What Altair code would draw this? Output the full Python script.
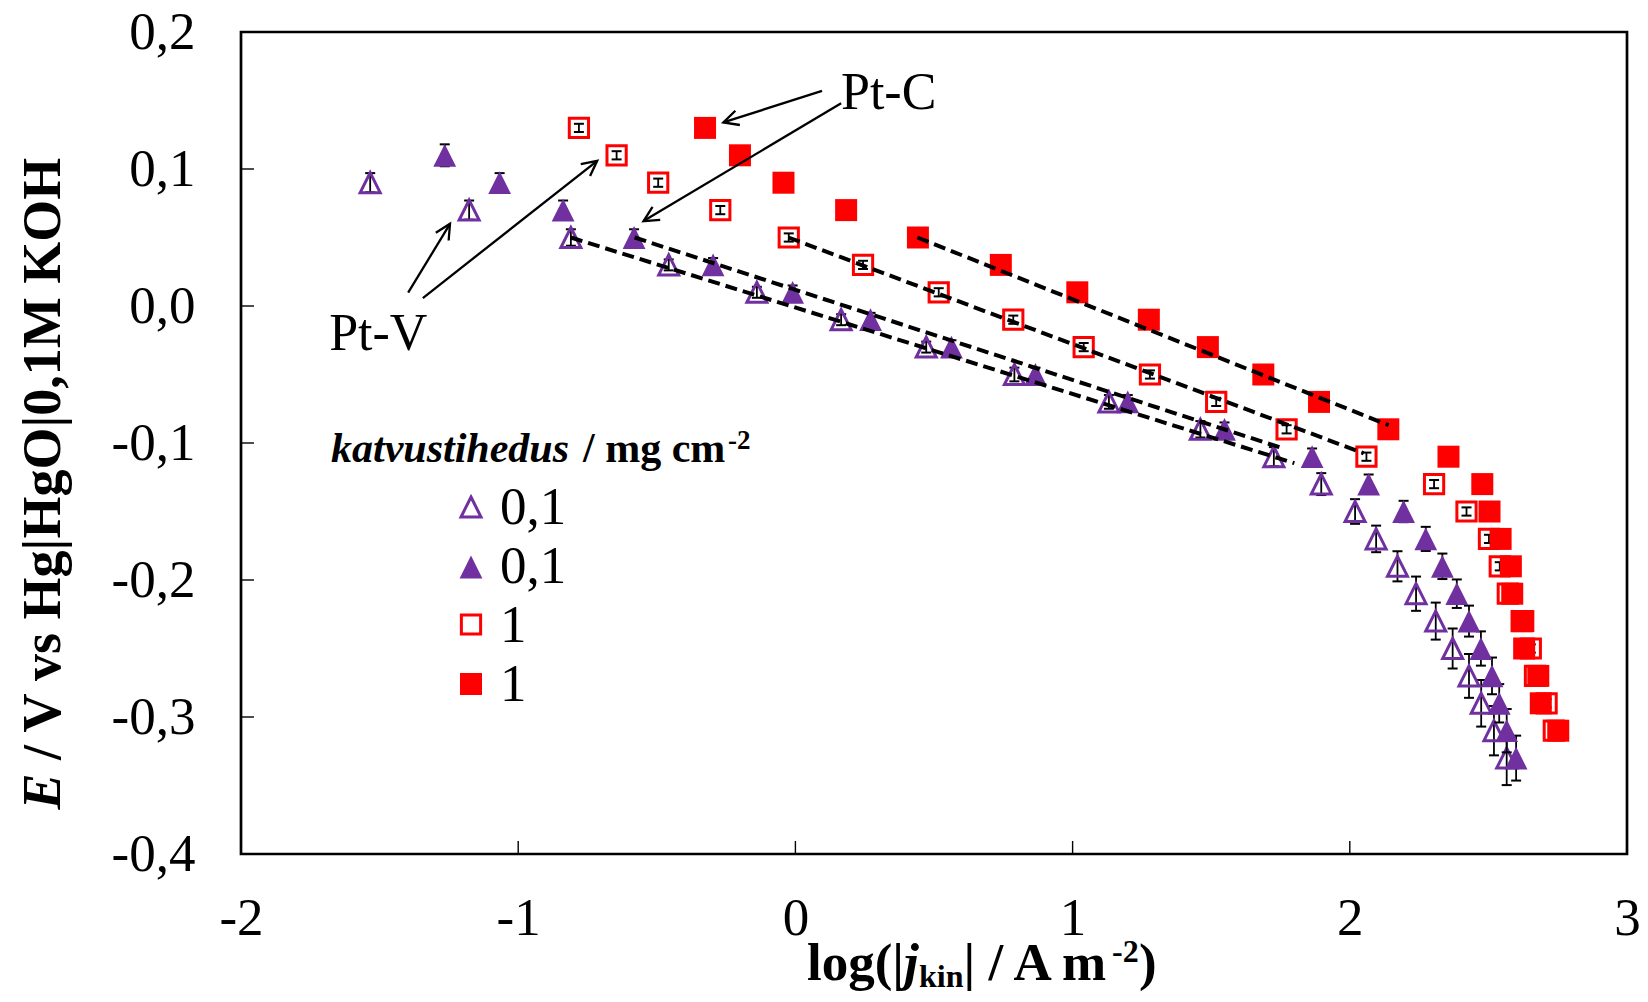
import altair as alt
import numpy as np
import pandas as pd

# ---------------- data ----------------
# Pt-V, open triangles
ptv_open_x = [-1.534, -1.177, -0.810, -0.457, -0.139, 0.165, 0.472, 0.790, 1.131, 1.461, 1.726,
              1.897, 2.019, 2.095, 2.172, 2.239, 2.310, 2.371, 2.430, 2.474, 2.520, 2.566]
ptv_open_y = [0.09, 0.07, 0.05, 0.03, 0.01, -0.01, -0.03, -0.05, -0.07, -0.09, -0.11,
              -0.13, -0.15, -0.17, -0.19, -0.21, -0.23, -0.25, -0.27, -0.29, -0.31, -0.33]
ptv_open_err = [0.007, 0.007, 0.006, 0.004, 0.004, 0.004, 0.004, 0.005, 0.005, 0.006, 0.007,
                0.008, 0.009, 0.0097, 0.011, 0.0125, 0.0135, 0.0146, 0.016, 0.017, 0.018, 0.0197]

# Pt-V, filled triangles
ptv_fill_x = [-1.265, -1.067, -0.838, -0.582, -0.297, -0.010, 0.271, 0.563, 0.866, 1.199, 1.548,
              1.864, 2.068, 2.194, 2.274, 2.334, 2.386, 2.430, 2.473, 2.513, 2.539, 2.566, 2.600]
ptv_fill_y = [0.11, 0.09, 0.07, 0.05, 0.03, 0.01, -0.01, -0.03, -0.05, -0.07, -0.09,
              -0.11, -0.13, -0.15, -0.17, -0.19, -0.21, -0.23, -0.25, -0.27, -0.29, -0.31, -0.33]
ptv_fill_err = [0.008, 0.007, 0.007, 0.006, 0.005, 0.005, 0.005, 0.005, 0.005, 0.005, 0.005,
                0.006, 0.007, 0.0078, 0.0088, 0.0093, 0.0104, 0.0113, 0.0125, 0.0134, 0.014, 0.0158, 0.0164]

# Pt-C, open squares
ptc_open_x = [-0.781, -0.645, -0.495, -0.271, -0.024, 0.244, 0.517, 0.786, 1.040, 1.279, 1.518,
              1.772, 2.060, 2.304, 2.421, 2.502, 2.541, 2.570, 2.620, 2.653, 2.668, 2.710, 2.736]
ptc_open_y = [0.13, 0.11, 0.09, 0.07, 0.05, 0.03, 0.01, -0.01, -0.03, -0.05, -0.07,
              -0.09, -0.11, -0.13, -0.15, -0.17, -0.19, -0.21, -0.23, -0.25, -0.27, -0.29, -0.31]
ptc_open_err = [0.003] * 23

# Pt-C, filled squares
ptc_fill_x = [-0.326, -0.200, -0.043, 0.183, 0.442, 0.741, 1.017, 1.275, 1.488, 1.688, 1.889,
              2.139, 2.356, 2.478, 2.504, 2.544, 2.581, 2.586, 2.626, 2.629, 2.680, 2.689, 2.752]
ptc_fill_y = [0.13, 0.11, 0.09, 0.07, 0.05, 0.03, 0.01, -0.01, -0.03, -0.05, -0.07,
              -0.09, -0.11, -0.13, -0.15, -0.17, -0.19, -0.21, -0.23, -0.25, -0.27, -0.29, -0.31]

# Tafel fit lines (start / end)
fit_x0 = [-0.81, -0.58, -0.025, 0.44]
fit_y0 = [0.05, 0.05, 0.05, 0.05]
fit_x1 = [1.80, 1.76, 2.05, 2.14]
fit_y1 = [-0.1147, -0.104, -0.1075, -0.087]

# annotation arrows (start -> tip)
arrow_x1 = [0.096, 0.165, -1.397, -1.344]
arrow_y1 = [0.157, 0.148, 0.0097, 0.0058]
arrow_x2 = [-0.260, -0.548, -1.246, -0.715]
arrow_y2 = [0.134, 0.062, 0.060, 0.106]

note_text = ["Pt-C", "Pt-V"]
note_x = [0.1645, -1.682]
note_y = [0.144, -0.0318]

x_ticks = [-2, -1, 0, 1, 2, 3]
y_ticks = [-0.4, -0.3, -0.2, -0.1, 0.0, 0.1, 0.2]
legend_labels = ["0,1", "0,1", "1", "1"]

# ---------------- layout / style ----------------
W, H = 1386, 822
PAD = {"left": 233, "top": 24, "right": 13, "bottom": 140}
PURPLE = "#7030A0"
RED = "#FF0000"
FONT = "Liberation Serif"
TRI = "M0,-1L1,1L-1,1Z"
VHEAD = "M-0.5,1L0,0L0.5,1"

xscale = alt.Scale(domain=[-2, 3], nice=False, zero=False)
yscale = alt.Scale(domain=[-0.4, 0.2], nice=False, zero=False)
xaxis = alt.Axis(values=x_ticks, ticks=False, domain=False, grid=False, labelFont=FONT,
                 labelFontSize=53, labelColor="black", labelPadding=38, labelFlush=False,
                 labelOverlap=False, title=None,
                 labelExpr="(datum.value < 0 ? '-' : '') + format(abs(datum.value), 'd')")
yaxis = alt.Axis(values=y_ticks, ticks=False, domain=False, grid=False, labelFont=FONT,
                 labelFontSize=53, labelColor="black", labelPadding=46, labelFlush=False,
                 labelOverlap=False, title=None,
                 labelExpr="(datum.value < -1e-9 ? '-' : '') + replace(format(abs(datum.value), '.1f'), '.', ',')")


def X(f):
    return alt.X(f, type="quantitative", scale=xscale, axis=xaxis)


def Y(f):
    return alt.Y(f, type="quantitative", scale=yscale, axis=yaxis)


def series_df(xv, yv, err=None):
    d = pd.DataFrame({"x": xv, "y": yv})
    if err is not None:
        d["lo"] = np.array(yv) - np.array(err)
        d["hi"] = np.array(yv) + np.array(err)
    return d


def errbars(d):
    base = alt.Chart(d)
    bar = base.mark_rule(color="black", strokeWidth=1.8).encode(x=X("x"), y=Y("lo"), y2="hi")
    c1 = base.mark_tick(orient="horizontal", size=10, thickness=2, color="black", opacity=1).encode(x=X("x"), y=Y("lo"))
    c2 = base.mark_tick(orient="horizontal", size=10, thickness=2, color="black", opacity=1).encode(x=X("x"), y=Y("hi"))
    return [bar, c1, c2]


def points(d, shape, color, filled, size, sw=0):
    kw = dict(shape=shape, color=color, filled=filled, size=size, opacity=1)
    if not filled:
        kw["strokeWidth"] = sw
    return alt.Chart(d).mark_point(**kw).encode(x=X("x"), y=Y("y"))


def txt(s, px, py, size, weight="normal", style="normal", angle=0):
    mk = dict(align="left", baseline="alphabetic", font=FONT, fontSize=size,
              fontWeight=weight, fontStyle=style, color="black")
    if angle:
        mk["angle"] = angle
    return alt.Chart(pd.DataFrame({"t": [s]})).mark_text(**mk).encode(
        x=alt.value(px), y=alt.value(py), text="t:N")


d_ot = series_df(ptv_open_x, ptv_open_y, ptv_open_err)
d_ft = series_df(ptv_fill_x, ptv_fill_y, ptv_fill_err)
d_os = series_df(ptc_open_x, ptc_open_y, ptc_open_err)
d_fs = series_df(ptc_fill_x, ptc_fill_y)

layers = []
layers += errbars(d_ot)
layers.append(points(d_ot, TRI, PURPLE, False, 400, 3))
layers += errbars(d_ft)
layers.append(points(d_ft, TRI, PURPLE, True, 520))
layers += errbars(d_os)
layers.append(points(d_os, "square", RED, False, 370, 3))
layers.append(points(d_fs, "square", RED, True, 484))

# fit lines
fit_rows = []
for i in range(len(fit_x0)):
    fit_rows.append({"id": i, "x": fit_x0[i], "y": fit_y0[i]})
    fit_rows.append({"id": i, "x": fit_x1[i], "y": fit_y1[i]})
layers.append(alt.Chart(pd.DataFrame(fit_rows)).mark_line(
    color="black", strokeWidth=4, strokeDash=[12, 6]).encode(x=X("x"), y=Y("y"), detail="id:N"))

# arrows
px_x = W / 5.0
px_y = H / 0.6
dx = (np.array(arrow_x2) - np.array(arrow_x1)) * px_x
dy = -(np.array(arrow_y2) - np.array(arrow_y1)) * px_y
ang = (np.degrees(np.arctan2(dx, -dy)) + 360.0) % 360.0
d_arr = pd.DataFrame({"x1": arrow_x1, "y1": arrow_y1, "x2": arrow_x2, "y2": arrow_y2, "ang": ang})
layers.append(alt.Chart(d_arr).mark_rule(color="black", strokeWidth=2.3).encode(
    x=X("x1"), y=Y("y1"), x2="x2", y2="y2"))
layers.append(alt.Chart(d_arr).mark_point(shape=VHEAD, filled=False, color="black", strokeWidth=2.3,
                                          size=900, opacity=1).encode(
    x=X("x2"), y=Y("y2"), angle=alt.Angle("ang:Q", scale=None)))

# Pt-C / Pt-V labels
layers.append(alt.Chart(pd.DataFrame({"t": note_text, "x": note_x, "y": note_y})).mark_text(
    align="left", baseline="alphabetic", font=FONT, fontSize=52, color="black").encode(
    x=X("x"), y=Y("y"), text="t:N"))

# inward ticks
layers.append(alt.Chart(pd.DataFrame({"v": x_ticks[1:-1]})).mark_rule(color="black", strokeWidth=1.4).encode(
    x=X("v"), y=alt.value(H), y2=alt.value(H - 13)))
layers.append(alt.Chart(pd.DataFrame({"v": y_ticks[1:-1]})).mark_rule(color="black", strokeWidth=1.4).encode(
    y=Y("v"), x=alt.value(0), x2=alt.value(13)))

# legend
LEG_X = 230
LEG_Y = [475, 535, 592.5, 652]
LAB_Y = [491.5, 551, 610, 668.5]
leg_styles = [(TRI, PURPLE, False, 400), (TRI, PURPLE, True, 520),
              ("square", RED, False, 370), ("square", RED, True, 484)]
for i, (shp, col, fil, sz) in enumerate(leg_styles):
    kw = dict(shape=shp, color=col, filled=fil, size=sz, opacity=1)
    if not fil:
        kw["strokeWidth"] = 3
    layers.append(alt.Chart(pd.DataFrame({"k": [i]})).mark_point(**kw).encode(
        x=alt.value(LEG_X), y=alt.value(LEG_Y[i])))
    layers.append(txt(legend_labels[i], 259, LAB_Y[i], 53))

layers.append(txt("katvustihedus", 90, 429.5, 42, "bold", "italic"))
layers.append(txt("/ mg cm", 342, 429.5, 42, "bold"))
layers.append(txt("-2", 487, 416.5, 27, "bold"))

# x-axis title
TB = 948
layers.append(txt("log(|", 566, TB, 53, "bold"))
layers.append(txt("j", 663, TB, 53, "bold", "italic"))
layers.append(txt("kin", 678, TB + 7, 32, "bold"))
layers.append(txt("| / A m", 722.5, TB, 53, "bold"))
layers.append(txt("-2", 871, TB - 18, 32, "bold"))
layers.append(txt(")", 898, TB, 53, "bold"))

# y-axis title (rotated)
layers.append(txt("E", -181, 777.5, 54, "bold", "italic", 270))
layers.append(txt("/ V vs Hg|HgO|0,1M KOH", -181, 728, 54, "bold", angle=270))

chart = alt.layer(*layers).properties(
    width=W, height=H, padding=PAD, autosize=alt.AutoSizeParams(type="none")
).configure_view(stroke="black", strokeWidth=2.7)

chart.save("out.html", embed_options={"renderer": "svg", "actions": False})
